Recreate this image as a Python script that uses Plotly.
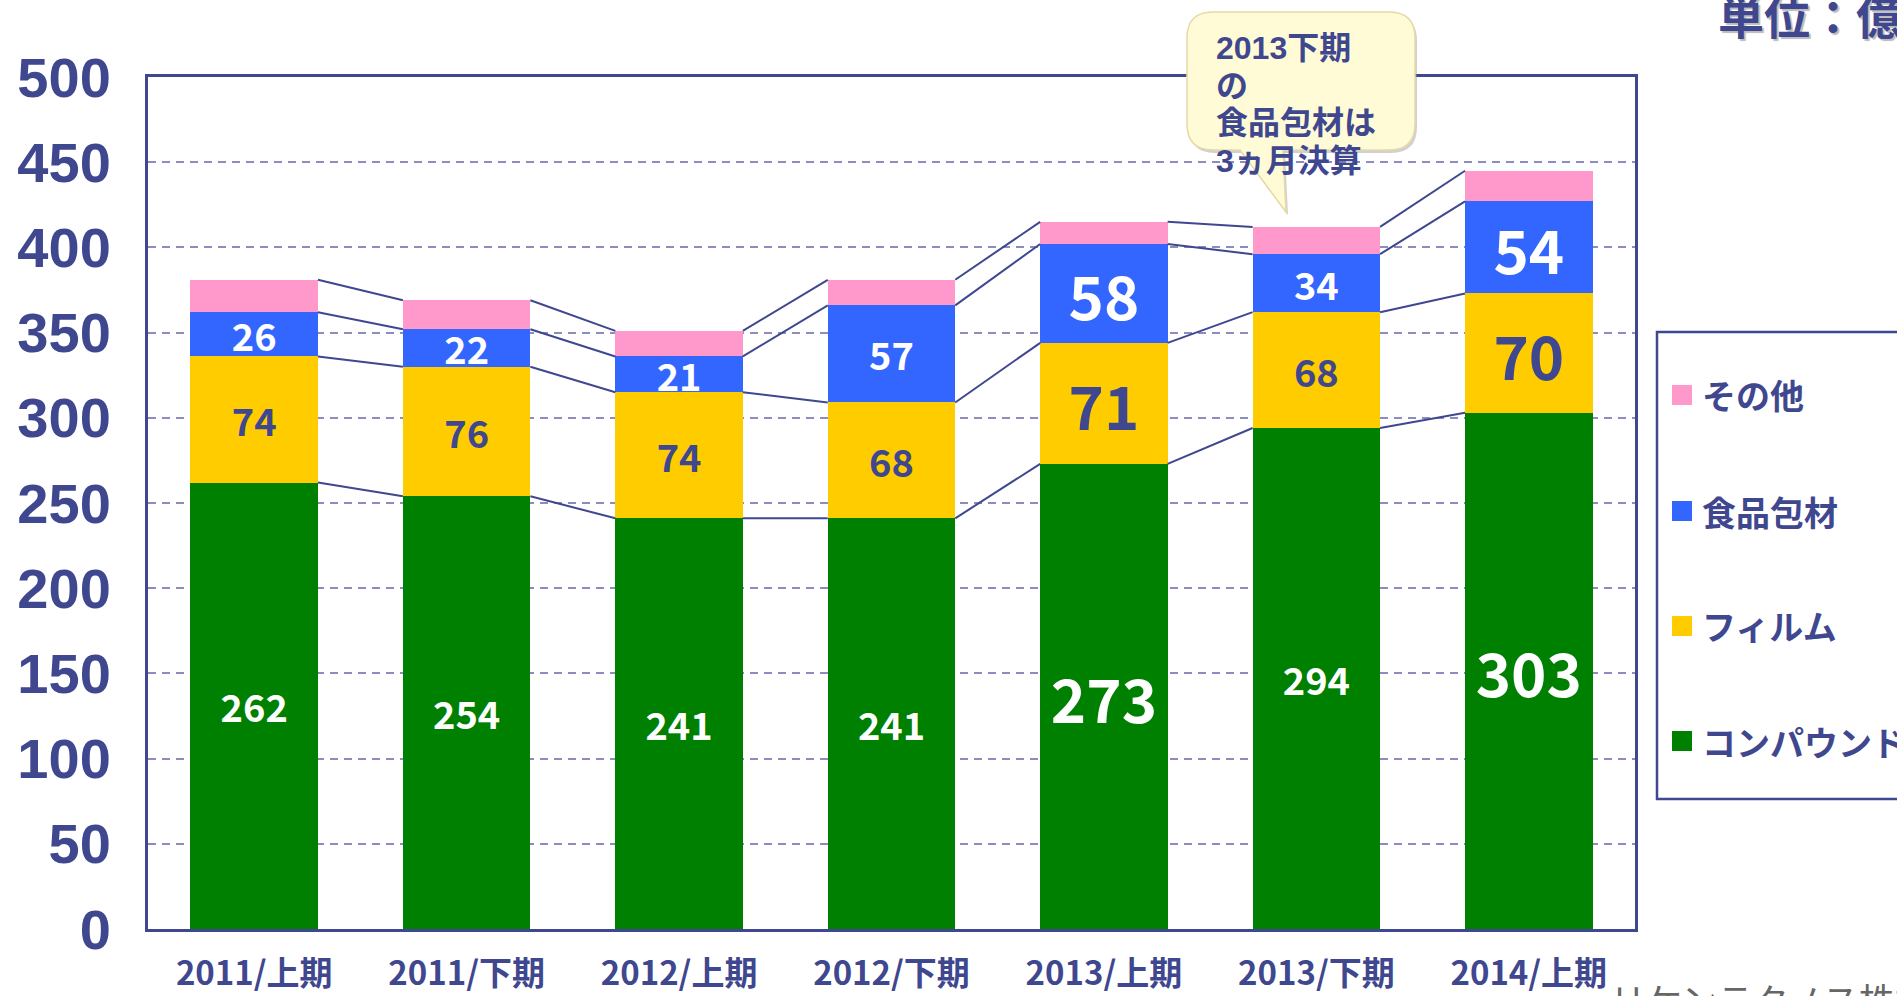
import plotly.graph_objects as go
import numpy as np

categories = ["2011/上期", "2011/下期", "2012/上期", "2012/下期", "2013/上期", "2013/下期", "2014/上期"]
compound = [262, 254, 241, 241, 273, 294, 303]
film = [74, 76, 74, 68, 71, 68, 70]
food_pack = [26, 22, 21, 57, 58, 34, 54]
other = [19, 17, 15, 15, 13, 16, 18]

series_names = ["コンパウンド", "フィルム", "食品包材", "その他"]
series_colors = ["#008000", "#FFCC00", "#3366FF", "#FF99CC"]
label_colors = ["white", "#3F478F", "white", None]
big_label = [False, False, False, False, True, False, True]

y_ticks = list(range(0, 501, 50))
unit_text = "単位：億円"
callout_lines = ["2013下期", "の", "食品包材は", "3ヵ月決算"]
footer_text = "リケンテクノス株式会社"

NAVY = "#3F478F"
W, H = 1897, 996
L, R, T, B = 148, 262, 77, 67
PW, PH = W - L - R, H - T - B


def px2paper(px, py):
    return (px - L) / PW, (H - B - py) / PH


narrow = "Liberation Sans Narrow, Arial Narrow, Noto Sans CJK JP, sans-serif"
wide = "Liberation Sans, Arial, Noto Sans CJK JP, sans-serif"
cjk = "Noto Sans CJK JP, sans-serif"

values = [compound, film, food_pack, other]
xs = list(range(len(categories)))
bar_w = 0.6

fig = go.Figure()
for vals, name, col, lc in zip(values, series_names, series_colors, label_colors):
    if lc is not None:
        text = [str(v) for v in vals]
        sizes = [60 if b else 38 for b in big_label]
    else:
        text = None
        sizes = 38
    fig.add_trace(go.Bar(
        x=xs, y=vals, name=name, marker=dict(color=col, line=dict(width=0)),
        width=bar_w, text=text, textposition="inside" if text else "none",
        insidetextanchor="middle", constraintext="none", textangle=0,
        textfont=dict(family=narrow, size=sizes, color=lc or "white", weight="bold"),
        showlegend=False, hoverinfo="skip",
    ))

# connector lines between stacked levels
cum = np.cumsum(np.array(values), axis=0)
for level in cum:
    lx, ly = [], []
    for i in range(len(categories) - 1):
        lx += [i + bar_w / 2, i + 1 - bar_w / 2, None]
        ly += [level[i], level[i + 1], None]
    fig.add_trace(go.Scatter(x=lx, y=ly, mode="lines", line=dict(color=NAVY, width=2),
                             showlegend=False, hoverinfo="skip"))

shapes = []
annotations = []

# manual legend
bx0, by0 = px2paper(1657, 332)
bx1, by1 = px2paper(1990, 799)
shapes.append(dict(type="rect", xref="paper", yref="paper", x0=bx0, y0=by1, x1=bx1, y1=by0,
                   line=dict(color=NAVY, width=2.5), fillcolor="rgba(0,0,0,0)"))
leg_y = [395, 511, 626, 741]
for k, idx in enumerate([3, 2, 1, 0]):
    cy = leg_y[k]
    sx0, sy0 = px2paper(1672, cy - 10)
    sx1, sy1 = px2paper(1692, cy + 10)
    shapes.append(dict(type="rect", xref="paper", yref="paper", x0=sx0, y0=sy1, x1=sx1, y1=sy0,
                       line=dict(width=0), fillcolor=series_colors[idx]))
    tx, ty = px2paper(1700, cy)
    annotations.append(dict(xref="paper", yref="paper", x=tx, y=ty, xanchor="left", yanchor="middle",
                            text=series_names[idx], showarrow=False,
                            font=dict(family=cjk, size=34, color=NAVY, weight="bold")))

# callout bubble
bl, bt, br_, bb, rr = 1187, 12, 1415, 150, 26
tail = [(1240, bb), (1286, 212), (1283, bb)]


def P(px, py):
    x, y = px2paper(px, py)
    return f"{x:.5f},{y:.5f}"


def bubble(dx, dy):
    return (f"M {P(bl + rr + dx, bt + dy)} L {P(br_ - rr + dx, bt + dy)} Q {P(br_ + dx, bt + dy)} {P(br_ + dx, bt + rr + dy)} "
            f"L {P(br_ + dx, bb - rr + dy)} Q {P(br_ + dx, bb + dy)} {P(br_ - rr + dx, bb + dy)} "
            f"L {P(tail[2][0] + dx, bb + dy)} L {P(tail[1][0] + dx, tail[1][1] + dy)} L {P(tail[0][0] + dx, bb + dy)} "
            f"L {P(bl + rr + dx, bb + dy)} Q {P(bl + dx, bb + dy)} {P(bl + dx, bb - rr + dy)} "
            f"L {P(bl + dx, bt + rr + dy)} Q {P(bl + dx, bt + dy)} {P(bl + rr + dx, bt + dy)} Z")


shapes.append(dict(type="path", xref="paper", yref="paper", path=bubble(2, 3),
                   fillcolor="rgba(150,150,150,0.45)", line=dict(width=0)))
shapes.append(dict(type="path", xref="paper", yref="paper", path=bubble(0, 0),
                   fillcolor="#FFFBD6", line=dict(color="#E6D9A6", width=1.5)))
for j, line in enumerate(callout_lines):
    cx, cy = px2paper(1214, 48 + j * 37.5)
    annotations.append(dict(xref="paper", yref="paper", x=cx, y=cy, xanchor="left", yanchor="middle",
                            align="left", text=line, showarrow=False,
                            font=dict(family=wide, size=32, color=NAVY, weight="bold")))

# unit label
ux, uy = px2paper(1716, 14)
annotations.append(dict(xref="paper", yref="paper", x=ux, y=uy, xanchor="left", yanchor="middle",
                        text=unit_text, showarrow=False,
                        font=dict(family=cjk, size=46, color=NAVY, weight="bold",
                                  shadow="2px 2px 1px #bbbbbb")))

# footer
fx, fy = px2paper(1608, 971)
annotations.append(dict(xref="paper", yref="paper", x=fx, y=fy, xanchor="left", yanchor="top",
                        text=footer_text, showarrow=False,
                        font=dict(family=cjk, size=36, color="#666666")))

fig.update_layout(
    barmode="stack",
    width=W, height=H,
    margin=dict(l=L, r=R, t=T, b=B, pad=0, autoexpand=False),
    paper_bgcolor="white", plot_bgcolor="white",
    shapes=shapes, annotations=annotations,
    showlegend=False,
)
fig.update_xaxes(range=[-0.5, len(categories) - 0.5], tickvals=xs, ticktext=categories,
                 showgrid=False, zeroline=False, showline=True, mirror=True, automargin=False,
                 linecolor=NAVY, linewidth=3, ticks="", ticklabelstandoff=13,
                 tickfont=dict(family=narrow, size=33, color=NAVY, weight="bold"))
fig.update_yaxes(range=[0, 500], tickvals=y_ticks, showgrid=True, gridcolor="#8C8CC0",
                 griddash="8px,6px", gridwidth=1.5, zeroline=False, showline=True, mirror=True,
                 automargin=False,
                 linecolor=NAVY, linewidth=3, ticks="", ticklabelstandoff=23,
                 tickfont=dict(family=wide, size=56, color=NAVY, weight="bold"))

fig.write_html("out.html", config={"displayModeBar": False},
               post_script="document.body.style.margin='0';document.body.style.overflow='hidden';")
